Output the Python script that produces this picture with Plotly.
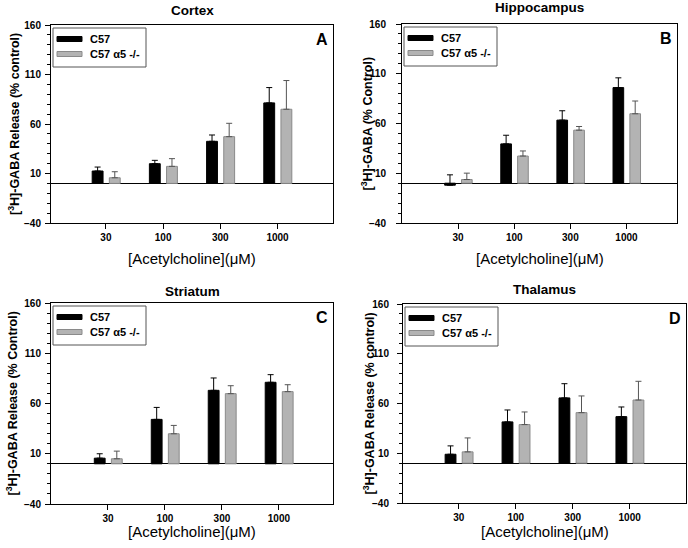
import plotly.graph_objects as go

W, H = 688, 548

categories = ["30", "100", "300", "1000"]
series_names = ["C57", "C57 \u03b15 -/-"]

panel_titles = ["Cortex", "Hippocampus", "Striatum", "Thalamus"]
panel_letters = ["A", "B", "C", "D"]
y_titles = [
    "[<sup>3</sup>H]-GABA Release (% control)",
    "[<sup>3</sup>H]-GABA (% Control)",
    "[<sup>3</sup>H]-GABA Release (% Control)",
    "[<sup>3</sup>H]-GABA Release (% control)",
]
x_title = "[Acetylcholine](\u03bcM)"

y_tickvals = [-40, 10, 60, 110, 160]

# values (% control)
cortex_c57 = [12.5, 19.9, 42.5, 81.3]
cortex_c57_err = [4.0, 3.4, 6.4, 15.5]
cortex_a5 = [5.7, 17.2, 47.2, 74.9]
cortex_a5_err = [6.1, 7.8, 13.5, 29.0]

hippo_c57 = [-2.0, 39.5, 63.4, 96.1]
hippo_c57_err = [10.4, 8.7, 9.4, 9.8]
hippo_a5 = [3.7, 27.3, 53.3, 69.8]
hippo_a5_err = [6.4, 5.1, 3.7, 12.8]

striatum_c57 = [5.6, 44.2, 73.1, 81.1]
striatum_c57_err = [4.4, 11.9, 12.3, 7.6]
striatum_a5 = [5.0, 29.9, 69.8, 71.8]
striatum_a5_err = [7.6, 8.3, 7.9, 6.9]

thalamus_c57 = [9.0, 41.5, 65.6, 46.8]
thalamus_c57_err = [8.4, 12.0, 14.3, 9.7]
thalamus_a5 = [11.4, 38.8, 50.8, 63.5]
thalamus_a5_err = [14.0, 12.7, 16.8, 18.8]

data = [
    (cortex_c57, cortex_c57_err, cortex_a5, cortex_a5_err),
    (hippo_c57, hippo_c57_err, hippo_a5, hippo_a5_err),
    (striatum_c57, striatum_c57_err, striatum_a5, striatum_a5_err),
    (thalamus_c57, thalamus_c57_err, thalamus_a5, thalamus_a5_err),
]

# layout (pixel boxes of the plot areas: left, top, right, bottom)
boxes = [(51, 25, 333, 223), (402, 24, 677, 223), (51, 303, 333, 504), (403, 304, 686, 503)]
x_ranges = [[-0.96, 3.97], [-1.0, 3.90], [-1.0, 3.95], [-0.98, 3.99]]
title_gap = [15, 16, 12, 15]
xtitle_gap = [35, 35, 27, 28]
ytitle_gap = [37, 36, 39, 34]
label_standoff = [2, 8, 2, 6]

BLACK = "#000000"
GRAY = "#b3b3b3"
GRAY_EDGE = "#8a8a8a"
FONT = "Liberation Sans, Arial, sans-serif"


def px(x):
    return x / W


def py(y):
    return 1 - y / H


fig = go.Figure()
annotations = []
shapes = []

for i in range(4):
    l, t, r, b = boxes[i]
    xa = "x" if i == 0 else f"x{i+1}"
    ya = "y" if i == 0 else f"y{i+1}"
    xkey = "xaxis" if i == 0 else f"xaxis{i+1}"
    ykey = "yaxis" if i == 0 else f"yaxis{i+1}"
    c57, c57e, a5, a5e = data[i]

    fig.add_trace(go.Bar(
        x=categories, y=c57, xaxis=xa, yaxis=ya, name=series_names[0],
        offset=-0.24, width=0.19,
        marker=dict(color=BLACK, line=dict(color=BLACK, width=1)),
        error_y=dict(type="data", array=c57e, arrayminus=[0] * len(c57e), symmetric=False,
                     color=BLACK, thickness=1, width=3),
        showlegend=False,
    ))
    fig.add_trace(go.Bar(
        x=categories, y=a5, xaxis=xa, yaxis=ya, name=series_names[1],
        offset=0.06, width=0.19,
        marker=dict(color=GRAY, line=dict(color=GRAY_EDGE, width=1)),
        error_y=dict(type="data", array=a5e, arrayminus=[0] * len(a5e), symmetric=False,
                     color="#555555", thickness=1, width=3),
        showlegend=False,
    ))

    fig.layout[xkey] = dict(
        domain=[px(l), px(r)], anchor=ya, type="category",
        categoryorder="array", categoryarray=categories, automargin=False,
        range=x_ranges[i], showline=True, mirror=True, linecolor=BLACK, linewidth=1,
        ticks="outside", ticklen=5, tickcolor=BLACK,
        tickfont=dict(family=FONT, size=10, color=BLACK, weight="bold"),
        showgrid=False, zeroline=False, fixedrange=True,
    )
    fig.layout[ykey] = dict(
        domain=[py(b), py(t)], anchor=xa, range=[-40, 160], automargin=False,
        tickvals=y_tickvals, showline=True, mirror=True, linecolor=BLACK, linewidth=1,
        ticks="outside", ticklen=5, tickcolor=BLACK, ticklabelstandoff=label_standoff[i],
        tickfont=dict(family=FONT, size=10, color=BLACK, weight="bold"),
        minor=dict(dtick=10, tick0=0, ticks="outside", ticklen=3, tickcolor=BLACK, showgrid=False),
        showgrid=False, zeroline=True, zerolinecolor=BLACK, zerolinewidth=1,
    )

    cx = (l + r) / 2
    cy = (t + b) / 2
    annotations.append(dict(x=px(cx), y=py(t - title_gap[i]), xref="paper", yref="paper",
                            text=f"<b>{panel_titles[i]}</b>", showarrow=False,
                            font=dict(family=FONT, size=13.5, color=BLACK),
                            xanchor="center", yanchor="middle"))
    annotations.append(dict(x=px(cx), y=py(b + xtitle_gap[i]), xref="paper", yref="paper",
                            text=x_title, showarrow=False,
                            font=dict(family=FONT, size=15, color=BLACK),
                            xanchor="center", yanchor="middle"))
    annotations.append(dict(x=px(l - ytitle_gap[i]), y=py(cy), xref="paper", yref="paper",
                            text=f"<b>{y_titles[i]}</b>", showarrow=False, textangle=-90,
                            font=dict(family=FONT, size=12.5, color=BLACK),
                            xanchor="center", yanchor="middle"))
    annotations.append(dict(x=px(r - 3), y=py(t + 4), xref="paper", yref="paper",
                            text=f"<b>{panel_letters[i]}</b>", showarrow=False,
                            font=dict(family=FONT, size=16, color=BLACK),
                            xanchor="right", yanchor="top"))

    # legend box
    shapes.append(dict(type="rect", xref="paper", yref="paper",
                       x0=px(l + 2), x1=px(l + 95), y0=py(t + 42), y1=py(t + 3),
                       line=dict(color="#555555", width=1), fillcolor="white", layer="above"))
    for k, (fc, lc) in enumerate([(BLACK, BLACK), (GRAY, GRAY_EDGE)]):
        yc = t + 14 + 15 * k
        shapes.append(dict(type="rect", xref="paper", yref="paper",
                           x0=px(l + 6), x1=px(l + 31), y0=py(yc + 2.5), y1=py(yc - 2.5),
                           line=dict(color=lc, width=1), fillcolor=fc, layer="above"))
        annotations.append(dict(x=px(l + 37), y=py(yc), xref="paper", yref="paper",
                                text=f"<b>{series_names[k]}</b>", showarrow=False,
                                font=dict(family=FONT, size=11, color=BLACK),
                                xanchor="left", yanchor="middle"))

fig.update_layout(
    width=W, height=H, margin=dict(l=0, r=0, t=0, b=0, pad=0, autoexpand=False),
    paper_bgcolor="white", plot_bgcolor="white",
    barmode="overlay", showlegend=False, hovermode=False,
    annotations=annotations, shapes=shapes,
    font=dict(family=FONT, color=BLACK),
)

# remove the default 8px page margin so the figure fills the window exactly
fig.write_html("out.html", config={"displayModeBar": False, "staticPlot": True},
               post_script="document.body.style.margin='0px';")
